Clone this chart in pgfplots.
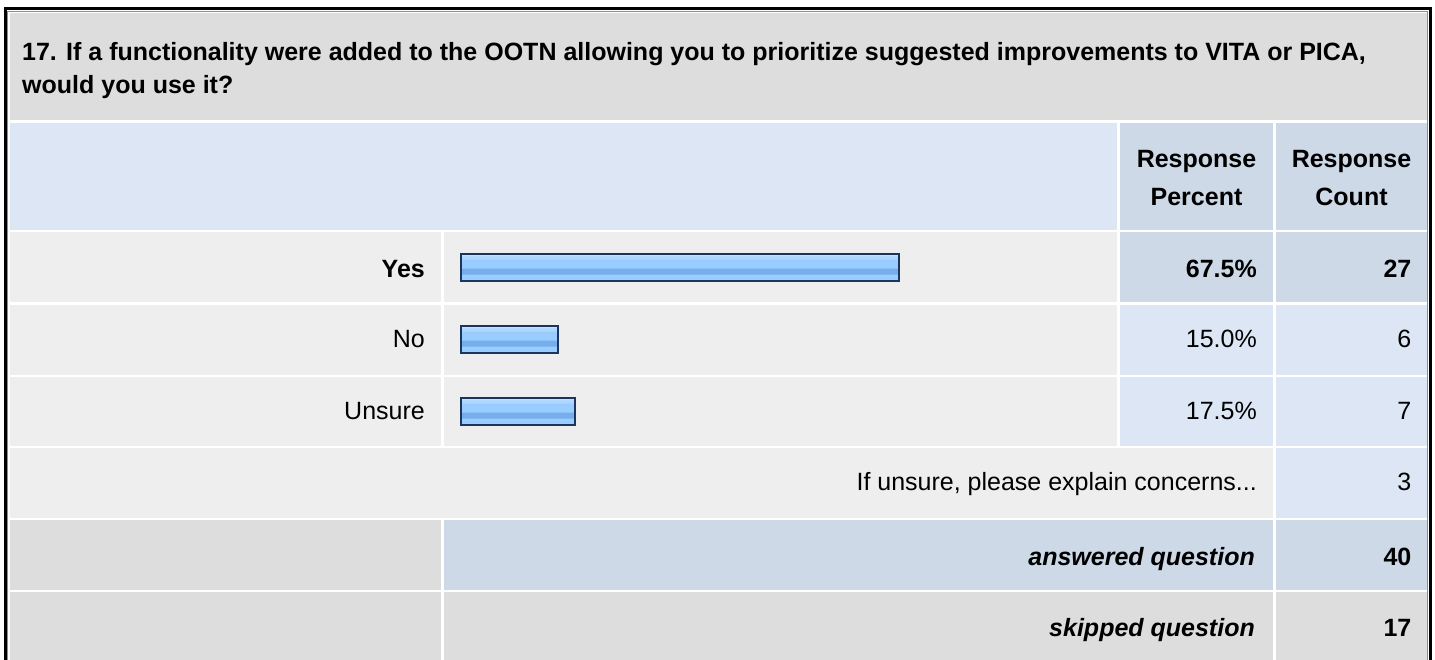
\documentclass[border=0pt]{standalone}
\usepackage{pgfplots}
\pgfplotsset{compat=1.18}
\usepackage{fontspec}
\setmainfont{Liberation Sans}
\definecolor{gA}{HTML}{DDDDDD}
\definecolor{gB}{HTML}{EEEEEE}
\definecolor{bL}{HTML}{DCE6F4}
\definecolor{bD}{HTML}{CDD9E6}
\definecolor{navy}{HTML}{1C355E}
\definecolor{sa}{HTML}{C4E2FF}
\definecolor{sb}{HTML}{AED6FF}
\definecolor{sc}{HTML}{99CCFF}
\definecolor{sd}{HTML}{76AEEB}
\newcommand{\fs}{\fontsize{25bp}{29bp}\selectfont}
\begin{document}
\begin{tikzpicture}
\begin{scope}[x=1bp,y=-1bp]
\path[use as bounding box] (0,0) rectangle (1435,660);
\fill[white] (0,0) rectangle (1435,660);
% title
\fill[gA] (10,13) rectangle (1427,120);
% header
\fill[bL] (10,123) rectangle (1117,229.5);
\fill[bD] (1120,123) rectangle (1273,229.5);
\fill[bD] (1276,123) rectangle (1427,229.5);
% Yes
\fill[gB] (10,232) rectangle (441,302);
\fill[gB] (444,232) rectangle (1117,302);
\fill[bD] (1120,232) rectangle (1273,302);
\fill[bD] (1276,232) rectangle (1427,302);
% No
\fill[gB] (10,305) rectangle (441,375);
\fill[gB] (444,305) rectangle (1117,375);
\fill[bL] (1120,305) rectangle (1273,375);
\fill[bL] (1276,305) rectangle (1427,375);
% Unsure
\fill[gB] (10,377) rectangle (441,446);
\fill[gB] (444,377) rectangle (1117,446);
\fill[bL] (1120,377) rectangle (1273,446);
\fill[bL] (1276,377) rectangle (1427,446);
% explain
\fill[gB] (10,448) rectangle (1273,518);
\fill[bL] (1276,448) rectangle (1427,518);
% answered
\fill[gA] (10,520) rectangle (441,590);
\fill[bD] (444,520) rectangle (1273,590);
\fill[bD] (1276,520) rectangle (1427,590);
% skipped
\fill[gA] (10,592) rectangle (441,665);
\fill[gA] (444,592) rectangle (1273,665);
\fill[gA] (1276,592) rectangle (1427,665);
% outer border
\draw[black!45, line width=1bp] (7.5,665) -- (7.5,11.5) -- (1427.5,11.5) -- (1427.5,665);
\draw[black, line width=3bp] (5,665) -- (5,9) -- (1430.5,9) -- (1430.5,665);
% texts
\node[anchor=base west, inner sep=0, font=\fs\bfseries] at (22,61) {17. If a functionality were added to the OOTN allowing you to prioritize suggested improvements to VITA or PICA,};
\node[anchor=base west, inner sep=0, font=\fs\bfseries] at (22,94) {would you use it?};
\node[anchor=base, inner sep=0, font=\fs\bfseries] at (1196.5,167) {Response};
\node[anchor=base, inner sep=0, font=\fs\bfseries] at (1196.5,205) {Percent};
\node[anchor=base, inner sep=0, font=\fs\bfseries] at (1351.5,167) {Response};
\node[anchor=base, inner sep=0, font=\fs\bfseries] at (1351.5,205) {Count};
\node[anchor=base east, inner sep=0, font=\fs\bfseries] at (425,277.5) {Yes};
\node[anchor=base east, inner sep=0, font=\fs] at (425,347.5) {No};
\node[anchor=base east, inner sep=0, font=\fs] at (425,419) {Unsure};
\node[anchor=base east, inner sep=0, font=\fs\bfseries] at (1257,277.5) {67.5\%};
\node[anchor=base east, inner sep=0, font=\fs] at (1257,347.5) {15.0\%};
\node[anchor=base east, inner sep=0, font=\fs] at (1257,419) {17.5\%};
\node[anchor=base east, inner sep=0, font=\fs\bfseries] at (1411.5,277.5) {27};
\node[anchor=base east, inner sep=0, font=\fs] at (1411.5,347.5) {6};
\node[anchor=base east, inner sep=0, font=\fs] at (1411.5,419) {7};
\node[anchor=base east, inner sep=0, font=\fs] at (1257,490.7) {If unsure, please explain concerns...};
\node[anchor=base east, inner sep=0, font=\fs] at (1411.5,490.7) {3};
\node[anchor=base east, inner sep=0, font=\fs\bfseries\itshape] at (1255,565) {answered question};
\node[anchor=base east, inner sep=0, font=\fs\bfseries] at (1411.5,565) {40};
\node[anchor=base east, inner sep=0, font=\fs\bfseries\itshape] at (1255,636.7) {skipped question};
\node[anchor=base east, inner sep=0, font=\fs\bfseries] at (1411.5,636.7) {17};
\end{scope}
\pgfplotstableread{
pct row
67.5 2
15.0 1
17.5 0
}\bars
\begin{axis}[at={(461bp,-231bp)}, anchor=north west, scale only axis,
  width=649bp, height=216bp, xmin=0, xmax=100, ymin=-0.5, ymax=2.5,
  hide axis, clip=false]
% base fill with border
\addplot[xbar, bar shift=0bp, bar width=27bp, fill=sc, draw=none] table[x=pct, y=row] {\bars};
% stripes
\addplot[xbar, bar shift=11.5bp, bar width=2bp, fill=sa, draw=none] table[x=pct, y=row] {\bars};
\addplot[xbar, bar shift=9bp, bar width=3bp, fill=sb, draw=none] table[x=pct, y=row] {\bars};
\addplot[xbar, bar shift=-4.5bp, bar width=6bp, fill=sd, draw=none] table[x=pct, y=row] {\bars};
% border
\addplot[xbar, bar shift=0bp, bar width=27bp, fill=none, draw=navy, line width=2bp] table[x=pct, y=row] {\bars};
\end{axis}
\end{tikzpicture}
\end{document}
